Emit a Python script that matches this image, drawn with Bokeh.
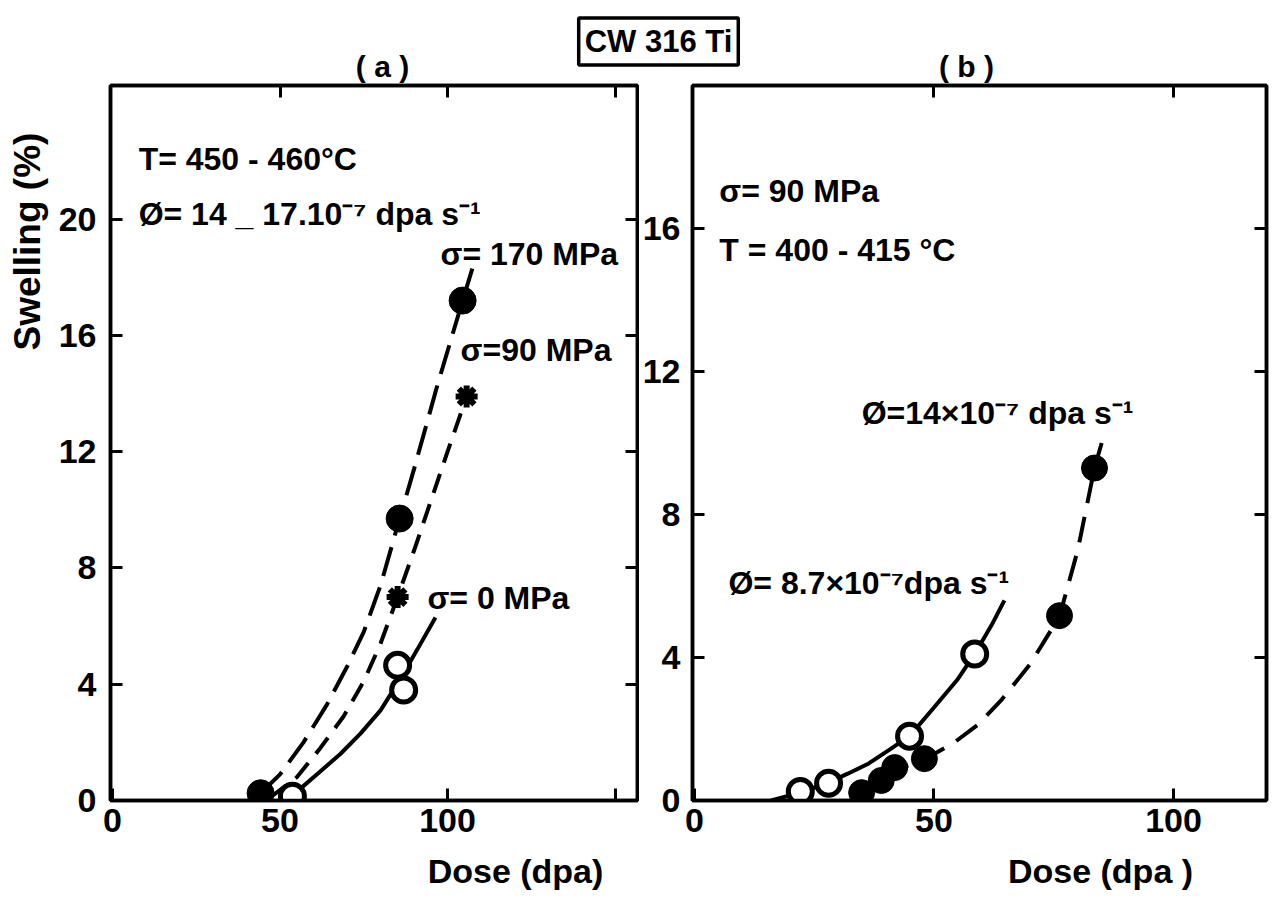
import math
from bokeh.plotting import figure
from bokeh.models import Range1d, LinearAxis, FixedTicker, Label, CustomJSTickFormatter
from bokeh.layouts import column, row
from bokeh.embed import file_html
from bokeh.resources import INLINE

FONT = "Liberation Sans"

# ---------------- data: panel (a) ----------------
a_x_ticks = [0, 50, 100, 150]
a_x_labelled_max = 100          # ticks above this carry no label
a_y_ticks = [0, 4, 8, 12, 16, 20]

a170_dose = [44.2, 85.7, 104.5]
a170_swell = [0.25, 9.7, 17.2]
a90_dose = [85.1, 105.7]
a90_swell = [7.0, 13.9]
a0_dose = [53.7, 85.1, 86.9]
a0_swell = [0.15, 4.65, 3.8]

a170_curve_dose = [44.2, 50, 57, 64, 70, 75, 80, 85.7, 90, 97, 104.5]
a170_curve_swell = [0.25, 0.9, 2.0, 3.3, 4.6, 5.8, 7.4, 9.7, 11.4, 14.3, 17.2]
a170_leader_dose = [105.3, 107.4]
a170_leader_swell = [17.5, 18.3]
a90_curve_dose = [47, 55, 62, 69, 75, 80, 85.1, 90, 95, 100, 105.7]
a90_curve_swell = [0.1, 0.8, 1.8, 2.9, 4.1, 5.4, 7.0, 8.6, 10.3, 12.0, 13.9]
a0_curve_dose = [51, 56, 62, 68, 74, 80, 86, 91, 96.4]
a0_curve_swell = [0.05, 0.4, 1.0, 1.6, 2.3, 3.1, 4.2, 5.2, 6.3]

# ---------------- data: panel (b) ----------------
b_x_ticks = [0, 50, 100]
b_y_ticks = [0, 4, 8, 12, 16]

b87_dose = [22.1, 28.0, 44.9, 58.5]
b87_swell = [0.25, 0.48, 1.8, 4.1]
b14_dose = [34.9, 39.0, 41.8, 48.0, 76.2, 83.5]
b14_swell = [0.22, 0.56, 0.92, 1.17, 5.17, 9.3]

b87_curve_dose = [16, 22.1, 28, 32, 36.3, 40.5, 44.9, 50, 55, 58.5, 62, 64.7]
b87_curve_swell = [0.0, 0.22, 0.5, 0.75, 1.03, 1.4, 1.8, 2.6, 3.4, 4.1, 4.9, 5.6]
b14_curve_dose = [33, 36, 40, 44, 48, 54, 59, 64, 70, 76.2, 80, 83.5, 85]
b14_curve_swell = [0.0, 0.3, 0.65, 0.95, 1.15, 1.6, 2.1, 2.8, 3.8, 5.15, 7.0, 9.3, 10.0]


def style_axis(ax, ticks, labels=True):
    ax.ticker = FixedTicker(ticks=ticks)
    ax.axis_line_width = 3.5
    ax.axis_line_color = "black"
    ax.major_tick_line_width = 3
    ax.major_tick_line_color = "black"
    ax.major_tick_in = 12
    ax.major_tick_out = 0
    ax.minor_tick_line_color = None
    ax.major_label_text_font = FONT
    ax.major_label_text_font_style = "bold"
    ax.major_label_text_color = "black"
    ax.major_label_text_font_size = "34px"
    if not labels:
        ax.formatter = CustomJSTickFormatter(code="return '';")
        ax.major_label_standoff = 0


def label(p, x, y, text, size="32px", align="left", angle=0.0, baseline="middle"):
    p.add_layout(Label(x=x, y=y, text=text, text_font=FONT, text_font_style="bold",
                       text_font_size=size, text_align=align, text_baseline=baseline,
                       angle=angle, text_color="black"))


def blank(width, height):
    f = figure(width=width, height=height, x_range=Range1d(0, width),
               y_range=Range1d(height, 0),
               output_backend="svg", toolbar_location=None, min_border=0,
               x_axis_location=None, y_axis_location=None)
    f.grid.visible = False
    f.outline_line_color = None
    return f


def make_panel(xr, yr, fw, fh, bl, br, xt, yt, xt_top, yt_right):
    p = figure(frame_width=fw, frame_height=fh, x_range=Range1d(*xr), y_range=Range1d(*yr),
               output_backend="svg", toolbar_location=None,
               min_border_left=bl, min_border_right=br, min_border_top=2, min_border_bottom=48)
    p.grid.visible = False
    p.outline_line_color = "black"
    p.outline_line_width = 3.5
    p.background_fill_color = "white"
    p.border_fill_color = "white"
    bottom = p.below[0]
    left = p.left[0]
    style_axis(bottom, xt)
    style_axis(left, yt)
    top = LinearAxis()
    right = LinearAxis()
    style_axis(top, xt_top, labels=False)
    style_axis(right, yt_right, labels=False)
    p.add_layout(top, "above")
    p.add_layout(right, "right")
    return p, bottom, left


# ---------------- panel (a) ----------------
pa, pa_bottom, pa_left = make_panel((-0.6, 156.7), (0, 24.6), 527, 715, 55, 2,
                                    a_x_ticks, a_y_ticks, [50, 100, 150], [4, 8, 12, 16, 20])
pa_bottom.formatter = CustomJSTickFormatter(
    args=dict(lim=a_x_labelled_max), code="return tick > lim ? '' : String(tick);")
pa_bottom.major_label_standoff = 8
pa_left.major_label_standoff = 14

pa.line(a170_curve_dose, a170_curve_swell, line_color="black", line_width=4, line_dash="30 12")
pa.line(a170_leader_dose, a170_leader_swell, line_color="black", line_width=4)
pa.line(a90_curve_dose, a90_curve_swell, line_color="black", line_width=4, line_dash="20 12")
pa.line(a0_curve_dose, a0_curve_swell, line_color="black", line_width=4)
pa.scatter(a170_dose, a170_swell, marker="circle", size=27, fill_color="black", line_color="black")
pa.scatter(a90_dose, a90_swell, marker="asterisk", size=22, line_color="black", line_width=6)
pa.scatter(a0_dose, a0_swell, marker="circle", size=24, fill_color="white", line_color="black", line_width=5)

label(pa, 7.8, 22.07, "T= 450 - 460°C")
label(pa, 7.8, 20.17, "Ø= 14 _ 17.10⁻⁷ dpa s⁻¹")
label(pa, 97.9, 18.8, "σ= 170 MPa")
label(pa, 103.9, 15.5, "σ=90 MPa")
label(pa, 94.0, 6.97, "σ= 0 MPa")

# ---------------- panel (b) ----------------
pb, pb_bottom, pb_left = make_panel((-0.4, 119.4), (0, 20.0), 574, 715, 52, 10,
                                    b_x_ticks, b_y_ticks, [50, 100], [4, 8, 12, 16])
pb_bottom.major_label_standoff = 8
pb_left.major_label_standoff = 12

pb.line(b87_curve_dose, b87_curve_swell, line_color="black", line_width=4)
pb.line(b14_curve_dose, b14_curve_swell, line_color="black", line_width=4, line_dash="26 14")
pb.scatter(b14_dose, b14_swell, marker="circle", size=26, fill_color="black", line_color="black")
pb.scatter(b87_dose, b87_swell, marker="circle", size=24, fill_color="white", line_color="black", line_width=5)

label(pb, 5.2, 17.06, "σ= 90 MPa")
label(pb, 5.2, 15.4, "T = 400 - 415 °C")
label(pb, 34.9, 10.85, "Ø=14×10⁻⁷ dpa s⁻¹")
label(pb, 7.1, 6.07, "Ø= 8.7×10⁻⁷dpa s⁻¹")

# ---------------- header / side / footer (text only) ----------------
hd = blank(1277, 83)
hd.add_layout(Label(x=658, y=41, text="CW 316 Ti", text_font=FONT, text_font_style="bold",
                    text_font_size="31px", text_align="center", text_baseline="middle",
                    text_color="black", border_line_color="black", border_line_width=3.5,
                    padding=6, background_fill_color="white"))
label(hd, 382, 66, "( a )", size="30px", align="center")
label(hd, 966, 66, "( b )", size="30px", align="center")

side = blank(55, 765)
label(side, 27, 167, "Swelling (%)", size="37px", align="center", angle=math.pi / 2)

ft = blank(1277, 69)
label(ft, 515, 22, "Dose (dpa)", size="34px", align="center")
label(ft, 1100, 22, "Dose (dpa )", size="34px", align="center")

layout = column(hd, row(side, pa, pb), ft)
open("out.html", "w").write(file_html(layout, INLINE))
